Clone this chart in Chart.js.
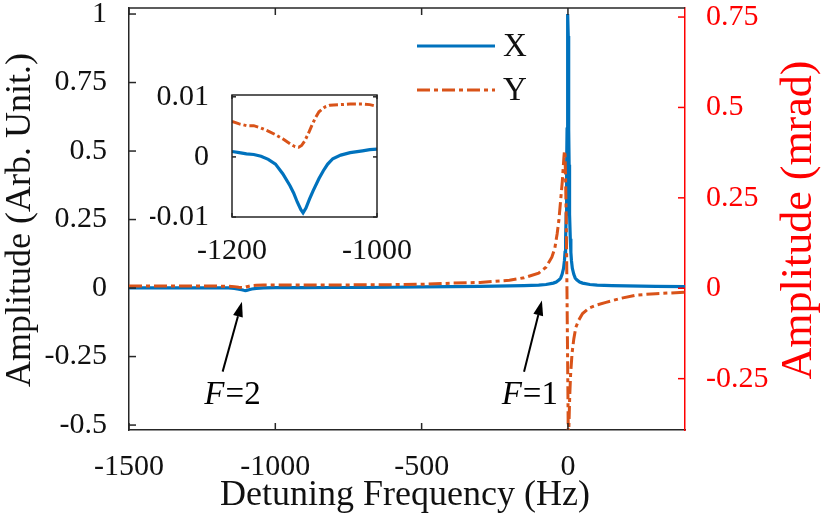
<!DOCTYPE html>
<html><head><meta charset="utf-8">
<script src="https://cdn.jsdelivr.net/npm/chart.js@4.4.1/dist/chart.umd.min.js"></script>
<style>
html,body{margin:0;padding:0;background:#fff;}
#wrap{position:relative;width:830px;height:524px;overflow:hidden;}
#main{position:absolute;left:0;top:0;}
#inset{position:absolute;left:150px;top:85px;}
</style></head><body>
<div id="wrap"><canvas id="main" width="830" height="524"></canvas><canvas id="inset" width="270" height="180"></canvas></div>
<script>
const SERIF = "'Liberation Serif', 'Times New Roman', serif";
const TXT = '#111111';
const AXIS = '#262626';
const BLUE = '#0072BD';
const ORANGE = '#D95319';
const RED = '#FF0000';

const seriesNames = ['X', 'Y'];

// Main chart, series X (left axis, Arb. Unit.)
const freqX = [-1500,-1400,-1300,-1200,-1160,-1140,-1125,-1115,-1108,-1103,-1098,-1090,-1080,-1065,-1040,
  -1000,-900,-800,-700,-600,-500,-400,-300,-200,-150,-100,-75,-50,-40,-30,-25,-20,-15,-12,-10,-8,-6,-5,-4,-3,-2,-1,
  0,1,2,3,4,5,6,8,10,12,15,20,25,30,40,50,75,100,150,200,300,400];
const ampX = [0.001,0.001,0.001,0.001,0.0003,-0.0012,-0.0038,-0.006,-0.0082,-0.0093,-0.0085,-0.006,-0.0036,-0.001,0.0005,
  0.0015,0.0015,0.002,0.002,0.003,0.004,0.005,0.006,0.008,0.009,0.011,0.013,0.018,0.022,0.03,0.036,0.05,0.072,0.1,0.13,0.18,0.27,0.34,0.45,0.58,0.75,0.92,
  1.0,0.92,0.75,0.58,0.45,0.34,0.27,0.18,0.13,0.1,0.072,0.05,0.036,0.03,0.022,0.018,0.013,0.011,0.009,0.008,0.006,0.005];

// Main chart, series Y (right axis, mrad)
const freqY = [-1500,-1400,-1300,-1200,-1160,-1140,-1125,-1112,-1105,-1098,-1090,-1080,-1065,-1040,
  -1000,-900,-800,-700,-600,-500,-400,-300,-250,-200,-150,-100,-75,-55,-45,-37,-31,-25,-19,-14,-12,-10,-8,-6,-4,-2,
  0,1,2,4,6,9,14,20,27,37,50,72,100,130,180,232,300,400];
const ampY = [0.006,0.006,0.006,0.006,0.0055,0.0045,0.003,0.002,0.0022,0.004,0.0055,0.0075,0.0085,0.009,
  0.009,0.009,0.009,0.0095,0.010,0.011,0.014,0.016,0.019,0.022,0.029,0.042,0.058,0.086,0.11,0.15,0.188,0.243,0.298,0.36,0.38,0.37,0.3,0.2,0.05,-0.12,
  -0.3,-0.4,-0.42,-0.36,-0.3,-0.24,-0.18,-0.14,-0.108,-0.088,-0.07,-0.055,-0.046,-0.039,-0.028,-0.019,-0.015,-0.011];

// Inset (zoom on F=2 resonance)
const insetFreqX = [-1200,-1190,-1180,-1170,-1160,-1150,-1140,-1130,-1120,-1115,-1110,-1105,-1102,-1098,-1093,-1088,-1080,-1074,-1068,-1061,-1050,-1037,-1020,-1010,-1000];
const insetAmpX = [0.0009,0.0007,0.0005,0.0004,0.0001,-0.0004,-0.0012,-0.0028,-0.0048,-0.006,-0.0075,-0.0088,-0.0093,-0.0085,-0.007,-0.0056,-0.0036,-0.0023,-0.0012,-0.0003,0.0003,0.0007,0.001,0.0012,0.0013];
const insetFreqY = [-1200,-1190,-1180,-1170,-1160,-1150,-1140,-1130,-1120,-1113,-1108,-1104,-1100,-1095,-1090,-1085,-1080,-1072,-1065,-1050,-1037,-1020,-1010,-1000];
const insetAmpY = [0.0059,0.0055,0.0052,0.0052,0.0048,0.0043,0.0037,0.003,0.0022,0.0017,0.0016,0.0019,0.0026,0.0038,0.0052,0.0065,0.0075,0.0083,0.0086,0.0087,0.0088,0.0088,0.0087,0.0084];

// Tick labels
const xTicks = [-1500, -1000, -500, 0];
const leftTicks = [-0.5, -0.25, 0, 0.25, 0.5, 0.75, 1];
const rightTicks = [-0.25, 0, 0.25, 0.5, 0.75];
const insetXTicks = [-1200, -1000];
const insetYTicks = [-0.01, 0, 0.01];

const xTitle = 'Detuning Frequency (Hz)';
const leftTitle = 'Amplitude (Arb. Unit.)';
const rightTitle = 'Amplitude (mrad)';

// annotation arrows in data coordinates (x: Hz, y: left axis)
const annotations = [
  {num: '2', tail: [-1180, -0.305], head: [-1114, -0.05], label: [-1148, -0.39]},
  {num: '1', tail: [-150, -0.305], head: [-89, -0.045], label: [-132, -0.39]}
];

const pts = (xs, ys) => xs.map((v, i) => ({x: v, y: ys[i]}));
const setTicks = arr => s => { s.ticks = arr.map(v => ({value: v})); };
const noPad = s => { s.paddingTop = 0; s.paddingBottom = 0; s.paddingLeft = 0; s.paddingRight = 0; };
const fmt = v => String(v);

function line(ctx, x1, y1, x2, y2) { ctx.beginPath(); ctx.moveTo(x1, y1); ctx.lineTo(x2, y2); ctx.stroke(); }

function arrow(ctx, x1, y1, x2, y2) {
  const a = Math.atan2(y2 - y1, x2 - x1);
  const L = 15, W = 5;
  const bx = x2 - L * Math.cos(a), by = y2 - L * Math.sin(a);
  ctx.strokeStyle = '#000'; ctx.fillStyle = '#000'; ctx.lineWidth = 2;
  line(ctx, x1, y1, bx, by);
  ctx.beginPath();
  ctx.moveTo(x2, y2);
  ctx.lineTo(bx + W * Math.sin(a), by - W * Math.cos(a));
  ctx.lineTo(bx - W * Math.sin(a), by + W * Math.cos(a));
  ctx.closePath(); ctx.fill();
}

const mainDecor = {
  id: 'mainDecor',
  afterDraw(chart) {
    const {ctx, chartArea: {left, right, top, bottom}, scales: {x, y, y2}} = chart;
    ctx.save();
    ctx.lineCap = 'butt';
    ctx.strokeStyle = AXIS; ctx.lineWidth = 1.5;
    line(ctx, left, top, right, top);
    const TL = 7;
    xTicks.forEach(v => { const px = x.getPixelForValue(v); line(ctx, px, bottom, px, bottom - TL); line(ctx, px, top, px, top + TL); });
    leftTicks.forEach(v => { const py = y.getPixelForValue(v); line(ctx, left, py, left + TL, py); });
    ctx.strokeStyle = RED;
    rightTicks.forEach(v => { const py = y2.getPixelForValue(v); line(ctx, right, py, right - TL, py); });

    ctx.textAlign = 'center'; ctx.textBaseline = 'middle';
    ctx.fillStyle = TXT; ctx.font = '36px ' + SERIF;
    ctx.fillText(xTitle, 405, 496);
    ctx.save(); ctx.translate(21, 220); ctx.rotate(-Math.PI / 2); ctx.fillText(leftTitle, 0, 0); ctx.restore();
    ctx.fillStyle = RED; ctx.font = '44px ' + SERIF;
    ctx.save(); ctx.translate(799, 220); ctx.rotate(-Math.PI / 2); ctx.fillText(rightTitle, 0, 0); ctx.restore();

    const ds = chart.data.datasets;
    const legendOrder = [ds.findIndex(d => d.label === seriesNames[0]), ds.findIndex(d => d.label === seriesNames[1])];
    legendOrder.forEach((di, k) => {
      const d = ds[di];
      const ly = 46 + k * 44;
      ctx.strokeStyle = d.borderColor; ctx.lineWidth = d.borderWidth;
      ctx.setLineDash(d.borderDash || []);
      line(ctx, 417, ly, 495, ly);
      ctx.setLineDash([]);
      ctx.fillStyle = TXT; ctx.font = '33px ' + SERIF; ctx.textAlign = 'left'; ctx.textBaseline = 'middle';
      ctx.fillText(d.label, 503, ly + 1);
    });

    annotations.forEach(an => {
      const tx = x.getPixelForValue(an.tail[0]), ty = y.getPixelForValue(an.tail[1]);
      const hx = x.getPixelForValue(an.head[0]), hy = y.getPixelForValue(an.head[1]);
      arrow(ctx, tx, ty, hx, hy);
      const cx = x.getPixelForValue(an.label[0]), cy = y.getPixelForValue(an.label[1]);
      ctx.fillStyle = '#000'; ctx.textBaseline = 'middle'; ctx.textAlign = 'left';
      ctx.font = 'italic 33px ' + SERIF;
      const wF = ctx.measureText('F').width;
      ctx.font = '33px ' + SERIF;
      const wR = ctx.measureText('=' + an.num).width;
      const sx = cx - (wF + wR) / 2;
      ctx.font = 'italic 33px ' + SERIF;
      ctx.fillText('F', sx, cy);
      ctx.font = '33px ' + SERIF;
      ctx.fillText('=' + an.num, sx + wF + 1, cy);
    });
    ctx.restore();
  }
};

const insetDecor = {
  id: 'insetDecor',
  beforeDraw(chart) {
    const {ctx, chartArea: {left, right, top, bottom}} = chart;
    ctx.save(); ctx.fillStyle = '#fff'; ctx.fillRect(left, top, right - left, bottom - top); ctx.restore();
  },
  afterDraw(chart) {
    const {ctx, chartArea: {left, right, top, bottom}, scales: {x, y}} = chart;
    ctx.save();
    ctx.strokeStyle = AXIS; ctx.lineWidth = 1.5;
    ctx.strokeRect(left, top, right - left, bottom - top);
    const TL = 4;
    insetYTicks.forEach(v => { const py = y.getPixelForValue(v); line(ctx, left, py, left + TL, py); line(ctx, right, py, right - TL, py); });
    insetXTicks.forEach(v => { const px = x.getPixelForValue(v); line(ctx, px, bottom, px, bottom - TL); line(ctx, px, top, px, top + TL); });
    ctx.restore();
  }
};

Chart.defaults.font.family = SERIF;

new Chart(document.getElementById('main'), {
  type: 'line',
  data: {
    datasets: [
      {label: seriesNames[0], data: pts(freqX, ampX), yAxisID: 'y', borderColor: BLUE, borderWidth: 3.2, pointRadius: 0, tension: 0, order: 2},
      {label: seriesNames[1], data: pts(freqY, ampY), yAxisID: 'y2', borderColor: ORANGE, borderWidth: 3, borderDash: [13, 4, 4, 4], pointRadius: 0, tension: 0, order: 1}
    ]
  },
  options: {
    responsive: false, animation: false, maintainAspectRatio: false,
    layout: {padding: {top: 8, left: 0, right: 0, bottom: 0}},
    plugins: {legend: {display: false}, tooltip: {enabled: false}, title: {display: false}},
    scales: {
      x: {
        type: 'linear', position: 'bottom', min: -1500, max: 400,
        afterBuildTicks: setTicks(xTicks),
        afterFit: s => { s.height = 94; noPad(s); },
        grid: {display: false},
        border: {display: true, color: AXIS, width: 1.5},
        ticks: {font: {size: 30, family: SERIF}, color: TXT, padding: 11, maxRotation: 0, autoSkip: false, callback: fmt}
      },
      y: {
        type: 'linear', position: 'left', min: -0.518, max: 1.022,
        afterBuildTicks: setTicks(leftTicks),
        afterFit: s => { s.width = 129; noPad(s); },
        grid: {display: false},
        border: {display: true, color: AXIS, width: 1.5},
        ticks: {font: {size: 30, family: SERIF}, color: TXT, padding: 14, autoSkip: false, callback: fmt}
      },
      y2: {
        type: 'linear', position: 'right', min: -0.392, max: 0.775,
        afterBuildTicks: setTicks(rightTicks),
        afterFit: s => { s.width = 145; noPad(s); },
        grid: {display: false},
        border: {display: true, color: RED, width: 1.5},
        ticks: {font: {size: 30, family: SERIF}, color: RED, padding: 13, autoSkip: false, callback: fmt}
      }
    }
  },
  plugins: [mainDecor]
});

new Chart(document.getElementById('inset'), {
  type: 'line',
  data: {
    datasets: [
      {label: seriesNames[0], data: pts(insetFreqX, insetAmpX), borderColor: BLUE, borderWidth: 3.2, pointRadius: 0, tension: 0, order: 2},
      {label: seriesNames[1], data: pts(insetFreqY, insetAmpY), borderColor: ORANGE, borderWidth: 3, borderDash: [9, 3, 3, 3], pointRadius: 0, tension: 0, order: 1}
    ]
  },
  options: {
    responsive: false, animation: false, maintainAspectRatio: false,
    layout: {padding: {top: 10, right: 43, left: 0, bottom: 0}},
    plugins: {legend: {display: false}, tooltip: {enabled: false}},
    scales: {
      x: {
        type: 'linear', min: -1200, max: -1000,
        afterBuildTicks: setTicks(insetXTicks),
        afterFit: s => { s.height = 48; noPad(s); },
        grid: {display: false}, border: {display: false},
        ticks: {font: {size: 30, family: SERIF}, color: TXT, padding: 8, maxRotation: 0, autoSkip: false, callback: fmt}
      },
      y: {
        type: 'linear', min: -0.01, max: 0.0103,
        afterBuildTicks: setTicks(insetYTicks),
        afterFit: s => { s.width = 82; noPad(s); },
        grid: {display: false}, border: {display: false},
        ticks: {font: {size: 30, family: SERIF}, color: TXT, padding: 15, autoSkip: false, callback: fmt}
      }
    }
  },
  plugins: [insetDecor]
});
</script></body></html>
